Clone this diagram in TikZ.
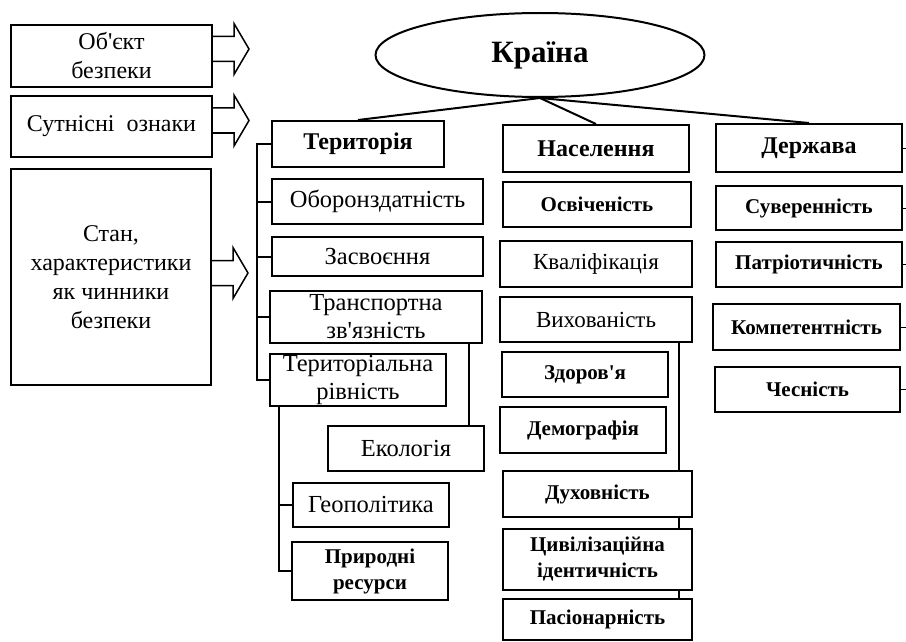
\documentclass[tikz,border=0pt]{standalone}
\usepackage{fontspec}
\setmainfont{Liberation Serif}[Ligatures=TeXOff]
\usetikzlibrary{shapes.geometric,backgrounds,calc}

\tikzset{
	box/.style={draw,line width=2pt,fill=white,align=center,inner sep=1pt,font=\fontsize{24.5}{28}\selectfont},
	boxs/.style={box,font=\fontsize{23}{27}\selectfont},
	boxb/.style={box,font=\fontsize{21}{26}\selectfont\bfseries},
	head/.style={box,font=\fontsize{24}{28}\selectfont\bfseries},
	side/.style={box,font=\fontsize{24}{29}\selectfont},
	link/.style={line width=2pt},
	barrow/.pic={\draw[line width=1.5pt,fill=white] (0,-12.5) -- (21,-12.5) -- (21,-25.5) -- (36,0) -- (21,25.5) -- (21,12.5) -- (0,12.5);}
}

\begin{document}
\begin{tikzpicture}[x=1pt,y=-1pt]
	\useasboundingbox (0,0) rectangle (906,642);

	\node[side,minimum width=201,minimum height=62] (obj) at (111.5,56) {Об'єкт\\безпеки};
	\node[side,minimum width=201,minimum height=61] (sut) at (111.5,126.5) {Сутнісні\ \ ознаки};
	\node[side,minimum width=200,minimum height=216] (stan) at (111,277) {Стан,\\характеристики\\як чинники\\безпеки};
	\pic at ([yshift=7pt]obj.east) {barrow};
	\pic at ([yshift=6pt]sut.east) {barrow};
	\pic at ([yshift=4pt]stan.east) {barrow};

	\node[draw,ellipse,line width=2pt,minimum width=329,minimum height=84,inner sep=0,font=\fontsize{31}{34}\selectfont\bfseries] (krai) at (540,55) {Країна};
	\node[head,minimum width=172,minimum height=46] (ter) at (358,144) {Територія};
	\node[head,minimum width=186,minimum height=47] (nas) at (596,148.5) {Населення};
	\node[head,minimum width=186,minimum height=48] (der) at (809,148) {Держава};
	\draw[link] (krai.south) -- (ter.north);
	\draw[link] (krai.south) -- (nas.north);
	\draw[link] (krai.south) -- (der.north);

	\node[box,minimum width=211,minimum height=45] (obor) at (377.5,201.5) {Оборонздатність};
	\node[box,minimum width=211,minimum height=39] (zasv) at (377.5,256.5) {Засвоєння};
	\node[box,minimum width=212,minimum height=52] (trans) at (376,317) {Транспортна\\зв'язність};
	\node[box,minimum width=176,minimum height=50] (terr) at (358,380) {Територіальна\\рівність};
	\node[box,minimum width=156,minimum height=45] (ekol) at (406,448.5) {Екологія};
	\node[box,minimum width=156,minimum height=44] (geop) at (371,505) {Геополітика};
	\node[boxb,minimum width=156,minimum height=58] (pryr) at (370,571) {Природні\\ресурси};
	\coordinate (tl) at ([xshift=-14pt]ter.west);
	\draw[link] (ter.west) -- (tl) |- (terr.west);
	\foreach \n in {obor,zasv,trans}
		\draw[link] (tl |- \n.west) -- (\n.west);
	\draw[link] ([xshift=-14pt]trans.south east) -- ([xshift=-14pt]trans.south east |- ekol.north);
	\coordinate (bl) at ([xshift=10pt]terr.south west);
	\draw[link] (bl) |- (pryr.west);
	\draw[link] (bl |- geop.west) -- (geop.west);

	\node[boxb,minimum width=188,minimum height=45] (osv) at (597,204.5) {Освіченість};
	\node[boxs,minimum width=192,minimum height=46] (kval) at (596,264) {Кваліфікація};
	\node[boxs,minimum width=192,minimum height=45] (vykh) at (596,319.5) {Вихованість};
	\node[boxb,minimum width=166,minimum height=45] (zdor) at (585,374.5) {Здоров'я};
	\node[boxb,minimum width=166,minimum height=46] (demo) at (583,430) {Демографія};
	\node[boxb,minimum width=189,minimum height=46] (dukh) at (597.5,494) {Духовність};
	\node[boxb,minimum width=189,minimum height=61] (tsyv) at (597.5,559.5) {Цивілізаційна\\ідентичність};
	\node[boxb,minimum width=189,minimum height=41] (pas) at (597.5,619.5) {Пасіонарність};
	\begin{scope}[on background layer]
		\draw[link] ([xshift=-14pt]vykh.south east) -- ([xshift=-14pt]vykh.south east |- pas.north);
	\end{scope}

	\node[boxb,minimum width=186,minimum height=44] (suv) at (809,208) {Суверенність};
	\node[boxb,minimum width=186,minimum height=45] (patr) at (809,264.5) {Патріотичність};
	\node[boxb,minimum width=187,minimum height=46] (komp) at (806.5,327) {Компетентність};
	\node[boxb,minimum width=185,minimum height=45] (ches) at (807.5,389.5) {Чесність};
	\coordinate (edge) at (906,148);
	\foreach \n in {der,suv,patr,komp,ches}
		\draw[line width=1pt] (\n.east) -- (\n.east -| edge);
\end{tikzpicture}
\end{document}
